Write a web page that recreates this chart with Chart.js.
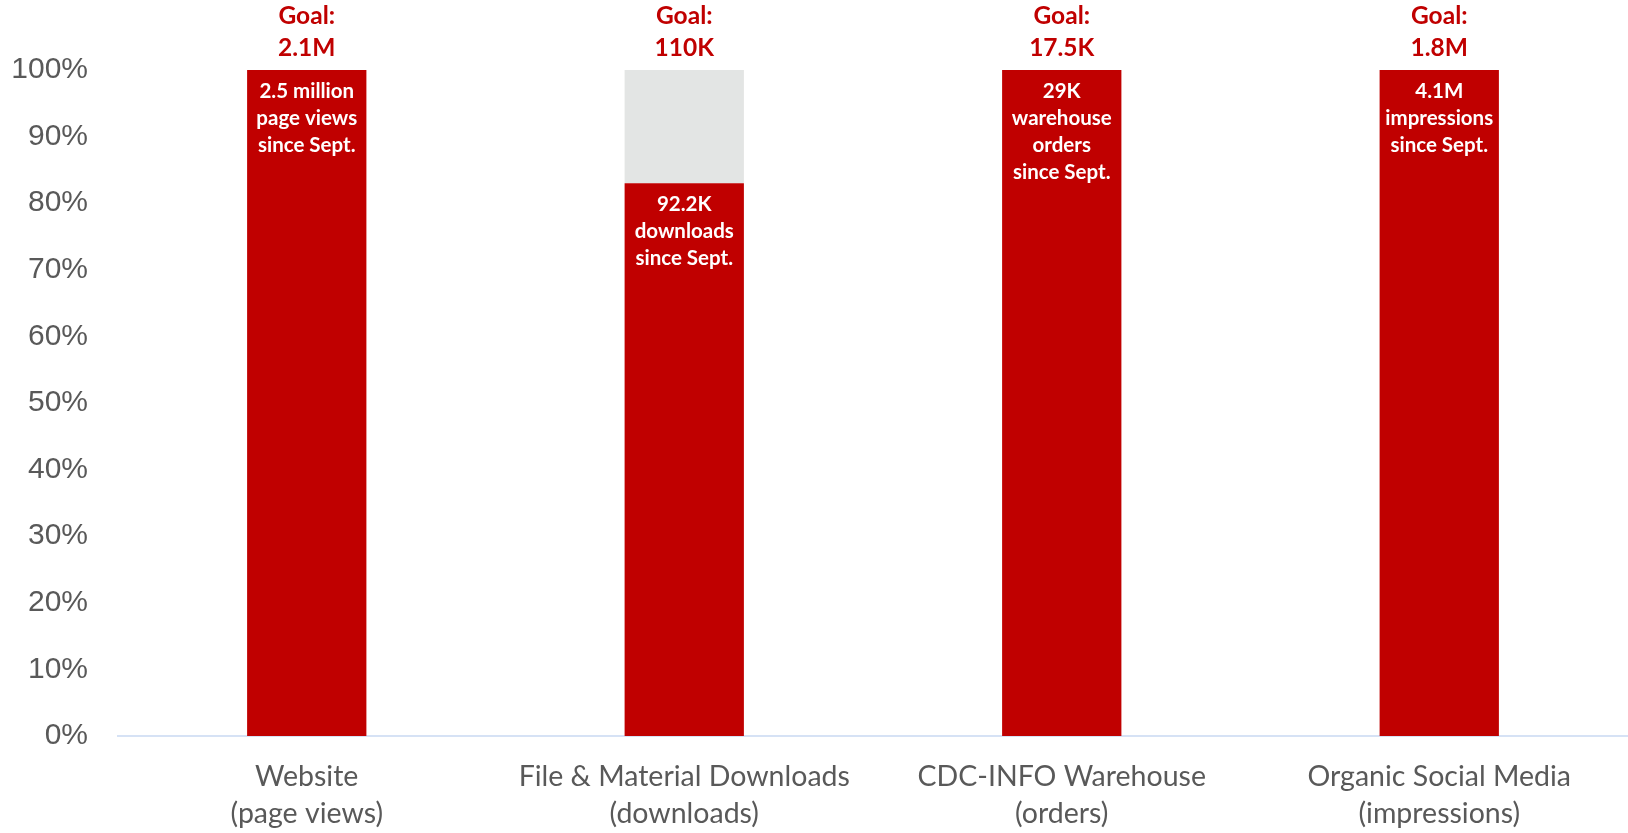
<!DOCTYPE html>
<html>
<head>
<meta charset="utf-8">
<script src="https://cdn.jsdelivr.net/npm/chart.js@4.4.1/dist/chart.umd.min.js"></script>
<style>
  html, body { margin: 0; padding: 0; background: #fff; }
  #wrap { width: 1628px; height: 833px; }
</style>
</head>
<body>
<div id="wrap"><canvas id="goalChart" width="1628" height="833"></canvas></div>
<script>
// dữ liệu biểu đồ
const categories = [
  ['Website', '(page views)'],
  ['File & Material Downloads', '(downloads)'],
  ['CDC-INFO Warehouse', '(orders)'],
  ['Organic Social Media', '(impressions)']
];
const achievedPct = [100, 83, 100, 100];
const remainingPct = [0, 17, 0, 0];
const goalLabels = [
  ['Goal:', '2.1M'],
  ['Goal:', '110K'],
  ['Goal:', '17.5K'],
  ['Goal:', '1.8M']
];
const resultLabels = [
  ['2.5 million', 'page views', 'since Sept.'],
  ['92.2K', 'downloads', 'since Sept.'],
  ['29K', 'warehouse', 'orders', 'since Sept.'],
  ['4.1M', 'impressions', 'since Sept.']
];
const yTicks = [0, 10, 20, 30, 40, 50, 60, 70, 80, 90, 100];

const RED = '#C00000';
const GREY = '#E3E5E4';

// plugin vẽ nhãn mục tiêu và nhãn kết quả
const labelPlugin = {
  id: 'goalLabels',
  afterDatasetsDraw(chart) {
    const ctx = chart.ctx;
    const redMeta = chart.getDatasetMeta(0);
    const yScale = chart.scales.y;
    ctx.save();
    ctx.textAlign = 'center';
    ctx.textBaseline = 'middle';
    redMeta.data.forEach((bar, i) => {
      // nhãn mục tiêu trên đỉnh cột
      const top = yScale.getPixelForValue(100);
      ctx.fillStyle = RED;
      ctx.font = 'bold 24.5px Lato';
      ctx.fillText(goalLabels[i][0], bar.x, top - 54);
      ctx.fillText(goalLabels[i][1], bar.x, top - 22);
      // nhãn trắng trong cột đỏ
      ctx.fillStyle = '#ffffff';
      ctx.font = 'bold 20.5px Lato';
      resultLabels[i].forEach((line, k) => {
        ctx.fillText(line, bar.x, bar.y + 21 + k * 27);
      });
    });
    ctx.restore();
  }
};

const ctx = document.getElementById('goalChart').getContext('2d');
new Chart(ctx, {
  type: 'bar',
  data: {
    labels: categories,
    datasets: [
      {
        label: 'Achieved',
        data: achievedPct,
        backgroundColor: RED,
        borderWidth: 0,
        categoryPercentage: 1,
        barPercentage: 0.316
      },
      {
        label: 'Remaining',
        data: remainingPct,
        backgroundColor: GREY,
        borderWidth: 0,
        categoryPercentage: 1,
        barPercentage: 0.316
      }
    ]
  },
  options: {
    responsive: false,
    animation: false,
    layout: { padding: { top: 70, right: 0, left: 0, bottom: 0 } },
    plugins: {
      legend: { display: false },
      tooltip: { enabled: false }
    },
    scales: {
      x: {
        stacked: true,
        grid: { display: false, drawTicks: false },
        border: { display: true, color: '#D6E2F5', width: 2 },
        ticks: {
          color: '#595959',
          font: { family: 'Lato', size: 28.5, lineHeight: 1.3 },
          padding: 22,
          maxRotation: 0,
          autoSkip: false
        },
        afterFit(scale) { scale.height = 97; }
      },
      y: {
        stacked: true,
        min: 0,
        max: 100,
        afterBuildTicks(scale) {
          scale.ticks = yTicks.map(v => ({ value: v }));
        },
        grid: { display: false, drawTicks: false },
        border: { display: false },
        ticks: {
          color: '#595959',
          font: { family: 'Liberation Sans', size: 30 },
          padding: 30,
          callback: v => v + '%'
        },
        afterFit(scale) { scale.width = 118; }
      }
    }
  },
  plugins: [labelPlugin]
});
</script>
</body>
</html>
